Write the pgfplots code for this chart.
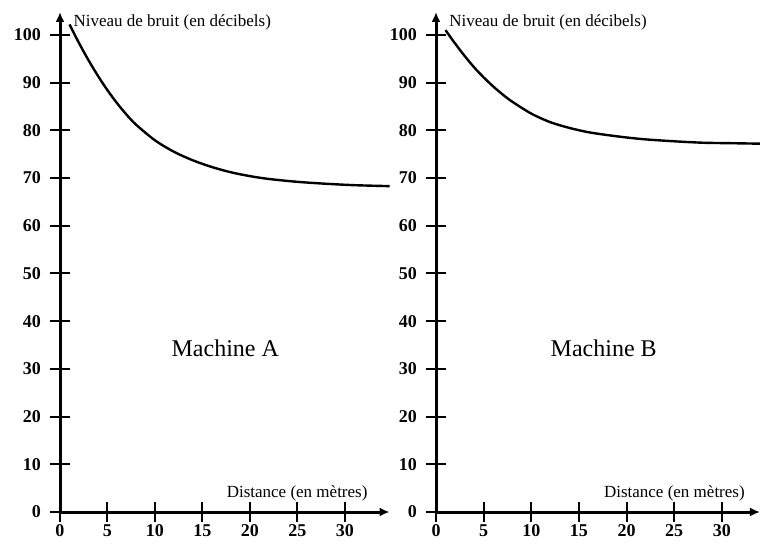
\documentclass[border=0pt]{standalone}
\usepackage{fontspec}
\setmainfont{Liberation Serif}
\usepackage{pgfplots}
\pgfplotsset{compat=1.18}
\usetikzlibrary{arrows.meta}

\pgfplotsset{
  machine/.style={
    scale only axis,
    height=250pt,
    ymin=0, ymax=104.8,
    xmin=0,
    axis lines=left,
    axis line style={line width=1.5pt, -{Latex[length=5pt,width=4.5pt]}},
    tick align=center,
    major tick length=10pt,
    tick style={line width=1pt, black},
    xtick={0,5,...,30},
    ytick={0,10,...,100},
    /pgf/number format/assume math mode=true,
    ticklabel style={font=\fontsize{9}{10}\selectfont\bfseries},
    yticklabel style={xshift=-1pt},
    xticklabel style={text height=6pt, text depth=0pt, yshift=2.5pt},
    clip=false,
  },
}
\tikzset{lab/.style={inner sep=0pt, font=\fontsize{8.5}{10}\selectfont}}

\begin{document}
\begin{tikzpicture}
\useasboundingbox (0,0) rectangle (380pt,-272.5pt);

% Machine A
\begin{axis}[machine, width=164.8pt, xmax=34.7,
  at={(30pt,-256pt)}, anchor=south west]
\addplot[smooth, line width=1.2pt] coordinates {
(1,102.2) (2,98.3) (3,94.7) (4,91.4) (5,88.4) (6,85.7) (7,83.3) (8,81.2)
(10,77.9) (12,75.5) (14,73.7) (16,72.3) (18,71.2) (20,70.4) (22,69.8)
(25,69.2) (28,68.8) (31,68.5) (34.7,68.3)
};
\node[lab, anchor=west] at (rel axis cs:0.04,0.98) {Niveau de bruit (en décibels)};
\node[lab, anchor=east] at (rel axis cs:0.934,0.038) {Distance (en mètres)};
\node[font=\fontsize{12}{14}\selectfont] at (axis cs:17.4,34.4) {Machine A};
\end{axis}

% Machine B
\begin{axis}[machine, width=162pt, xmax=34,
  at={(218pt,-256pt)}, anchor=south west]
\addplot[smooth, line width=1.2pt] coordinates {
(1,101.0) (2,98.2) (3,95.6) (4,93.2) (5,91.1) (6,89.2) (7,87.5) (8,86.0)
(10,83.5) (12,81.7) (14,80.5) (16,79.6) (18,79.0) (20,78.5) (22,78.1)
(25,77.7) (28,77.4) (31,77.3) (34,77.2)
};
\node[lab, anchor=west] at (rel axis cs:0.04,0.98) {Niveau de bruit (en décibels)};
\node[lab, anchor=east] at (rel axis cs:0.954,0.038) {Distance (en mètres)};
\node[font=\fontsize{12}{14}\selectfont] at (axis cs:17.6,34.4) {Machine B};
\end{axis}
\end{tikzpicture}
\end{document}
